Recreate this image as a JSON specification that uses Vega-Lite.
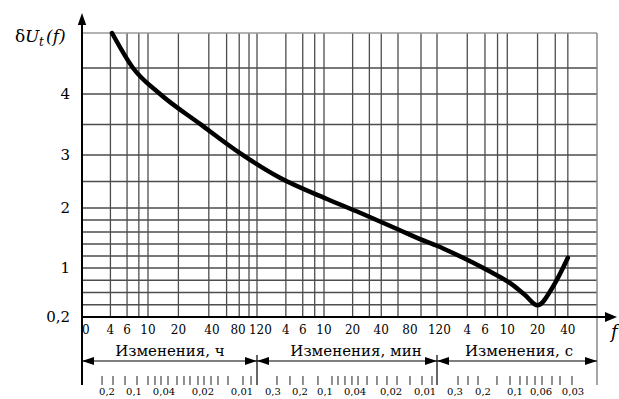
{
  "$schema": "https://vega.github.io/schema/vega-lite/v6.json",
  "width": 515,
  "height": 284,
  "autosize": {"type": "none"},
  "padding": {"left": 82, "top": 33, "right": 22, "bottom": 82},
  "background": "white",
  "config": {"view": {"stroke": null}, "font": "DejaVu Serif"},
  "datasets": {
    "vgrid": [{"f":4},{"f":6},{"f":8},{"f":10},{"f":20},{"f":40},{"f":60},{"f":80},{"f":100},{"f":120},
      {"f":240},{"f":360},{"f":480},{"f":600},{"f":1200},{"f":1800},{"f":2400},{"f":3600},{"f":6000},{"f":7200},
      {"f":14400},{"f":21600},{"f":28800},{"f":36000},{"f":72000},{"f":108000},{"f":144000}],
    "hgrid": [{"v":0.4},{"v":0.6},{"v":0.8},{"v":1},{"v":1.2},{"v":1.4},{"v":1.6},{"v":1.8},{"v":2},{"v":2.5},{"v":3},{"v":3.5},{"v":4},{"v":4.5}],
    "ylabels": [{"v":0.2,"t":"0,2"},{"v":1,"t":"1"},{"v":2,"t":"2"},{"v":3,"t":"3"},{"v":4,"t":"4"}],
    "curve": [{"f":4.16,"u":5},{"f":6.94,"u":4.5},{"f":13.15,"u":4},{"f":32.7,"u":3.51},{"f":81.4,"u":3.03},{"f":208,"u":2.57},{"f":645,"u":2.17},{"f":1435,"u":1.92},{"f":3763,"u":1.63},{"f":5868,"u":1.48},{"f":7200,"u":1.37},{"f":10386,"u":1.25},{"f":22651,"u":0.967},{"f":40988,"u":0.72},{"f":53993,"u":0.56},{"f":72000,"u":0.39},{"f":102000,"u":0.69},{"f":144000,"u":1.17}],
    "xlabels": [{"f":2.2,"t":"0"},{"f":4,"t":"4"},{"f":6,"t":"6"},{"f":10,"t":"10"},{"f":20,"t":"20"},{"f":43,"t":"40"},{"f":78,"t":"80"},{"f":130,"t":"120"},
      {"f":240,"t":"4"},{"f":360,"t":"6"},{"f":600,"t":"10"},{"f":1200,"t":"20"},{"f":2400,"t":"40"},{"f":4700,"t":"80"},{"f":7600,"t":"120"},
      {"f":14400,"t":"4"},{"f":21600,"t":"6"},{"f":36000,"t":"10"},{"f":72000,"t":"20"},{"f":144000,"t":"40"}],
    "captions": [{"f":16.5,"t":"Изменения, ч"},{"f":1302,"t":"Изменения, мин"},{"f":47074,"t":"Изменения, с"}],
    "segments": [{"a":2,"b":120},{"a":120,"b":7200},{"a":7200,"b":280800}],
    "sublabels": [{"f":3.68,"t":"0,2"},{"f":7.11,"t":"0,1"},{"f":14.4,"t":"0,04"},{"f":35,"t":"0,02"},{"f":85.2,"t":"0,01"},
      {"f":176,"t":"0,3"},{"f":337,"t":"0,2"},{"f":615,"t":"0,1"},{"f":1271,"t":"0,04"},{"f":3039,"t":"0,02"},{"f":6280,"t":"0,01"},
      {"f":10872,"t":"0,3"},{"f":20644,"t":"0,2"},{"f":42955,"t":"0,1"},{"f":77900,"t":"0,06"},{"f":162000,"t":"0,03"}],
    "subticks": [{"f":3.26},{"f":4.26},{"f":5.71},{"f":7.65},{"f":10},{"f":11.73},{"f":13.45},{"f":15.78},{"f":19.37},{"f":22.72},{"f":26.05},{"f":31.26},{"f":35.85},{"f":42.05},{"f":49.32},{"f":61.94},{"f":87.2},{"f":104.7},
      {"f":194},{"f":265},{"f":362},{"f":519},{"f":728},{"f":842},{"f":997},{"f":1181},{"f":1367},{"f":1700},{"f":2165},{"f":2757},{"f":3514},{"f":4699},{"f":6069},{"f":6801},
      {"f":11646},{"f":14643},{"f":18410},{"f":28443},{"f":38306},{"f":48161},{"f":56533},{"f":67903},{"f":79704},{"f":100224},{"f":120384},{"f":158400}]
  },
  "layer": [
    {
      "data": {"name": "vgrid"},
      "mark": {"type": "rule", "color": "#4d4d4d", "strokeWidth": 1.3},
      "encoding": {
        "x": {"field": "f", "type": "quantitative", "axis": null,
              "scale": {"type": "log", "domain": [2, 10, 120, 600, 3600, 6000, 7200, 280800], "range": [0, 66, 175, 242, 316, 339, 355, 515], "nice": false, "zero": false}},
        "y": {"datum": 0.2, "type": "quantitative", "axis": null,
              "scale": {"type": "linear", "domain": [0.2, 1, 2, 3, 4, 4.5, 5], "range": [284, 235, 175, 122, 61, 35, 0], "nice": false, "zero": false}},
        "y2": {"datum": 5}
      }
    },
    {
      "data": {"name": "hgrid"},
      "mark": {"type": "rule", "color": "#4d4d4d", "strokeWidth": 1.3},
      "encoding": {
        "x": {"datum": 2, "type": "quantitative", "axis": null},
        "x2": {"datum": 280800},
        "y": {"field": "v", "type": "quantitative", "axis": null}
      }
    },
    {
      "data": {"values": [{}]},
      "mark": {"type": "rule", "color": "#999", "strokeWidth": 1.5},
      "encoding": {
        "x": {"datum": 2, "type": "quantitative", "axis": null},
        "x2": {"datum": 280800},
        "y": {"datum": 5, "type": "quantitative", "axis": null}
      }
    },
    {
      "data": {"values": [{}]},
      "mark": {"type": "rule", "color": "#888", "strokeWidth": 1.5, "y2Offset": 68},
      "encoding": {
        "x": {"datum": 280800, "type": "quantitative", "axis": null},
        "y": {"datum": 5, "type": "quantitative", "axis": null},
        "y2": {"datum": 0.2}
      }
    },
    {
      "data": {"name": "curve"},
      "mark": {"type": "line", "color": "black", "strokeWidth": 4.5, "interpolate": "monotone", "strokeCap": "round"},
      "encoding": {
        "x": {"field": "f", "type": "quantitative", "axis": null},
        "y": {"field": "u", "type": "quantitative", "axis": null}
      }
    },
    {
      "data": {"values": [{}]},
      "mark": {"type": "rule", "color": "black", "strokeWidth": 2, "yOffset": -8, "y2Offset": 68},
      "encoding": {
        "x": {"datum": 2, "type": "quantitative", "axis": null},
        "y": {"datum": 5, "type": "quantitative", "axis": null},
        "y2": {"datum": 0.2}
      }
    },
    {
      "data": {"values": [{}]},
      "mark": {"type": "rule", "color": "black", "strokeWidth": 2, "x2Offset": 10},
      "encoding": {
        "x": {"datum": 2, "type": "quantitative", "axis": null},
        "x2": {"datum": 280800},
        "y": {"datum": 0.2, "type": "quantitative", "axis": null}
      }
    },
    {
      "data": {"values": [{}]},
      "mark": {"type": "point", "shape": "M0,0L-0.35,1L0.35,1Z", "size": 576, "filled": true, "color": "black", "opacity": 1, "strokeWidth": 0, "yOffset": -20},
      "encoding": {
        "x": {"datum": 2, "type": "quantitative", "axis": null},
        "y": {"datum": 5, "type": "quantitative", "axis": null}
      }
    },
    {
      "data": {"values": [{}]},
      "mark": {"type": "point", "shape": "M0,0L-1,-0.42L-1,0.42Z", "size": 576, "filled": true, "color": "black", "opacity": 1, "strokeWidth": 0, "xOffset": 20},
      "encoding": {
        "x": {"datum": 280800, "type": "quantitative", "axis": null},
        "y": {"datum": 0.2, "type": "quantitative", "axis": null}
      }
    },
    {
      "data": {"name": "ylabels"},
      "mark": {"type": "text", "font": "DejaVu Serif", "fontSize": 15, "dx": -12, "baseline": "middle", "align": "right", "color": "black"},
      "encoding": {
        "x": {"datum": 2, "type": "quantitative", "axis": null},
        "y": {"field": "v", "type": "quantitative", "axis": null},
        "yOffset": {"condition": {"test": "datum.v == 0.2", "value": -6}, "value": 0},
        "text": {"field": "t"}
      }
    },
    {
      "data": {"name": "xlabels"},
      "mark": {"type": "text", "font": "DejaVu Serif", "fontSize": 12, "dy": 13, "baseline": "middle", "align": "center", "color": "black"},
      "encoding": {
        "x": {"field": "f", "type": "quantitative", "axis": null},
        "y": {"datum": 0.2, "type": "quantitative", "axis": null},
        "text": {"field": "t"}
      }
    },
    {
      "data": {"name": "captions"},
      "mark": {"type": "text", "font": "DejaVu Serif", "fontSize": 15, "dy": 34, "baseline": "middle", "align": "center", "color": "black"},
      "encoding": {
        "x": {"field": "f", "type": "quantitative", "axis": null},
        "y": {"datum": 0.2, "type": "quantitative", "axis": null},
        "text": {"field": "t"}
      }
    },
    {
      "data": {"name": "segments"},
      "mark": {"type": "rule", "color": "black", "strokeWidth": 1.2, "yOffset": 44},
      "encoding": {
        "x": {"field": "a", "type": "quantitative", "axis": null},
        "x2": {"field": "b"},
        "y": {"datum": 0.2, "type": "quantitative", "axis": null}
      }
    },
    {
      "data": {"name": "segments"},
      "mark": {"type": "point", "shape": "M0,0L1,-0.33L1,0.33Z", "size": 576, "filled": true, "color": "black", "opacity": 1, "strokeWidth": 0, "yOffset": 44},
      "encoding": {
        "x": {"field": "a", "type": "quantitative", "axis": null},
        "y": {"datum": 0.2, "type": "quantitative", "axis": null}
      }
    },
    {
      "data": {"name": "segments"},
      "mark": {"type": "point", "shape": "M0,0L-1,-0.33L-1,0.33Z", "size": 576, "filled": true, "color": "black", "opacity": 1, "strokeWidth": 0, "yOffset": 44},
      "encoding": {
        "x": {"field": "b", "type": "quantitative", "axis": null},
        "y": {"datum": 0.2, "type": "quantitative", "axis": null}
      }
    },
    {
      "data": {"values": [{"f": 120}, {"f": 7200}]},
      "mark": {"type": "rule", "color": "black", "strokeWidth": 1.2, "yOffset": 38, "y2Offset": 68},
      "encoding": {
        "x": {"field": "f", "type": "quantitative", "axis": null},
        "y": {"datum": 0.2, "type": "quantitative", "axis": null},
        "y2": {"datum": 0.2}
      }
    },
    {
      "data": {"name": "subticks"},
      "mark": {"type": "rule", "color": "#222", "strokeWidth": 1, "yOffset": 59, "y2Offset": 68},
      "encoding": {
        "x": {"field": "f", "type": "quantitative", "axis": null},
        "y": {"datum": 0.2, "type": "quantitative", "axis": null},
        "y2": {"datum": 0.2}
      }
    },
    {
      "data": {"name": "sublabels"},
      "mark": {"type": "text", "font": "DejaVu Serif", "fontSize": 10, "dy": 75, "baseline": "middle", "align": "center", "color": "black"},
      "encoding": {
        "x": {"field": "f", "type": "quantitative", "axis": null},
        "y": {"datum": 0.2, "type": "quantitative", "axis": null},
        "text": {"field": "t"}
      }
    },
    {
      "data": {"values": [{"t": "δ"}]},
      "mark": {"type": "text", "font": "DejaVu Serif", "fontSize": 17, "dx": -67, "dy": 9, "baseline": "alphabetic", "align": "left", "color": "black"},
      "encoding": {
        "x": {"datum": 2, "type": "quantitative", "axis": null},
        "y": {"datum": 5, "type": "quantitative", "axis": null},
        "text": {"field": "t"}
      }
    },
    {
      "data": {"values": [{"t": "U"}]},
      "mark": {"type": "text", "font": "DejaVu Serif", "fontSize": 17, "fontStyle": "italic", "dx": -57, "dy": 9, "baseline": "alphabetic", "align": "left", "color": "black"},
      "encoding": {
        "x": {"datum": 2, "type": "quantitative", "axis": null},
        "y": {"datum": 5, "type": "quantitative", "axis": null},
        "text": {"field": "t"}
      }
    },
    {
      "data": {"values": [{"t": "t"}]},
      "mark": {"type": "text", "font": "DejaVu Serif", "fontSize": 12, "fontStyle": "italic", "dx": -43, "dy": 13, "baseline": "alphabetic", "align": "left", "color": "black"},
      "encoding": {
        "x": {"datum": 2, "type": "quantitative", "axis": null},
        "y": {"datum": 5, "type": "quantitative", "axis": null},
        "text": {"field": "t"}
      }
    },
    {
      "data": {"values": [{"t": "(f)"}]},
      "mark": {"type": "text", "font": "DejaVu Serif", "fontSize": 17, "fontStyle": "italic", "dx": -36, "dy": 9, "baseline": "alphabetic", "align": "left", "color": "black"},
      "encoding": {
        "x": {"datum": 2, "type": "quantitative", "axis": null},
        "y": {"datum": 5, "type": "quantitative", "axis": null},
        "text": {"field": "t"}
      }
    },
    {
      "data": {"values": [{"t": "f"}]},
      "mark": {"type": "text", "font": "DejaVu Serif", "fontSize": 18, "fontStyle": "italic", "dx": 14, "dy": 7, "baseline": "top", "align": "left", "color": "black"},
      "encoding": {
        "x": {"datum": 280800, "type": "quantitative", "axis": null},
        "y": {"datum": 0.2, "type": "quantitative", "axis": null},
        "text": {"field": "t"}
      }
    }
  ]
}
